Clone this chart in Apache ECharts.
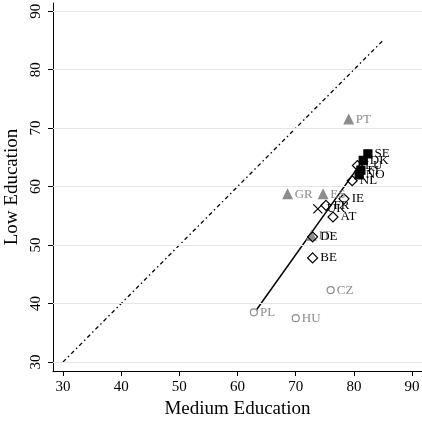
<!DOCTYPE html>
<html>
<head>
<meta charset="utf-8">
<script src="https://cdn.jsdelivr.net/npm/echarts@6/dist/echarts.min.js"></script>
<style>
  html, body { margin: 0; padding: 0; background: #fff; }
  #chart { width: 422px; height: 424px; }
</style>
</head>
<body>
<div id="chart"></div>
<script>
// tick values on both axes
var tickValues = [30, 40, 50, 60, 70, 80, 90]

// country groups: [medium, low]
var nordicNames = ['SE', 'DK', 'FI', 'NO']
var nordicVals = [[82.4, 65.6], [81.6, 64.5], [81.2, 62.8], [80.9, 62.0]]

var contNames = ['LU', 'NL', 'IE', 'FR', 'AT', 'DE', 'BE']
var contVals = [[80.6, 63.6], [79.7, 61.0], [78.3, 57.9], [75.2, 56.8], [76.4, 54.8], [72.9, 51.4], [72.9, 47.8]]

var libNames = ['UK']
var libVals = [[73.8, 56.2]]

var southNames = ['PT', 'GR', 'ES', 'IT']
var southVals = [[79.1, 71.5], [68.6, 58.7], [74.7, 58.7], [72.7, 51.6]]

var eastNames = ['PL', 'HU', 'CZ']
var eastVals = [[62.8, 38.5], [70.0, 37.5], [76.0, 42.3]]

// 45-degree reference and fitted line
var diagLine = [[30, 30], [85, 85]]
var fitLine = [[62.8, 38.3], [82.5, 65.8]]

var serif = '"Liberation Serif", "DejaVu Serif", serif'
var grey = '#8c8c8c'

function withNames(vals, names) {
  return vals.map(function(v, i) { return { value: v, name: names[i] } })
}

function pointSeries(vals, names, symbol, size, fill, stroke, labelColor) {
  return {
    type: 'scatter',
    data: withNames(vals, names),
    symbol: symbol,
    symbolSize: size,
    itemStyle: { color: fill, borderColor: stroke, borderWidth: 1.2, opacity: 1 },
    label: {
      show: true,
      position: 'right',
      distance: 2,
      formatter: '{b}',
      color: labelColor,
      fontFamily: serif,
      fontSize: 13
    },
    emphasis: { disabled: true },
    z: 5
  }
}

var chart = echarts.init(document.getElementById('chart'))

chart.setOption({
  animation: false,
  grid: { left: 53, right: 0, top: 3, bottom: 53, outerBoundsMode: 'none', containLabel: false },
  xAxis: {
    type: 'value',
    min: 28.28,
    max: 91.7,
    name: 'Medium Education',
    nameLocation: 'middle',
    nameGap: 25,
    nameTextStyle: { fontFamily: serif, fontSize: 19, color: '#000' },
    axisLine: { lineStyle: { color: '#000', width: 1 } },
    axisTick: { show: true, length: 5, customValues: tickValues, lineStyle: { color: '#000' } },
    axisLabel: { customValues: tickValues, margin: 9, fontFamily: serif, fontSize: 15, color: '#000' },
    splitLine: { show: false }
  },
  yAxis: {
    type: 'value',
    min: 28.46,
    max: 91.4,
    name: 'Low Education',
    nameLocation: 'middle',
    nameGap: 30,
    nameTextStyle: { fontFamily: serif, fontSize: 19, color: '#000' },
    axisLine: { show: true, lineStyle: { color: '#000', width: 1 } },
    axisTick: { show: true, length: 5, customValues: tickValues, lineStyle: { color: '#000' } },
    axisLabel: { customValues: tickValues, rotate: 90, margin: 9, fontFamily: serif, fontSize: 15, color: '#000' },
    splitLine: { show: false }
  },
  series: [
    {
      type: 'line',
      data: tickValues.map(function(t) { return [30, t] }),
      symbol: 'none',
      lineStyle: { opacity: 0 },
      silent: true,
      markLine: {
        silent: true,
        symbol: ['none', 'none'],
        label: { show: false },
        lineStyle: { color: '#e6e6e6', type: 'solid', width: 1 },
        data: tickValues.map(function(t) { return { yAxis: t } })
      },
      z: 0
    },
    {
      type: 'line',
      data: diagLine,
      symbol: 'none',
      lineStyle: { color: '#000', width: 1.3, type: [4, 3, 1.5, 3] },
      silent: true,
      z: 2
    },
    {
      type: 'line',
      data: fitLine,
      symbol: 'none',
      lineStyle: { color: '#000', width: 1.5 },
      silent: true,
      z: 3
    },
    pointSeries(southVals, southNames, 'triangle', 9, grey, grey, grey),
    pointSeries(eastVals, eastNames, 'circle', 7, '#fff', grey, grey),
    pointSeries(contVals, contNames, 'diamond', 10, 'rgba(255,255,255,0)', '#000', '#000'),
    pointSeries(libVals, libNames, 'path://M0,0L10,10M10,0L0,10', 9, 'none', '#000', '#000'),
    pointSeries(nordicVals, nordicNames, 'rect', 8, '#000', '#000', '#000')
  ]
})
</script>
</body>
</html>
